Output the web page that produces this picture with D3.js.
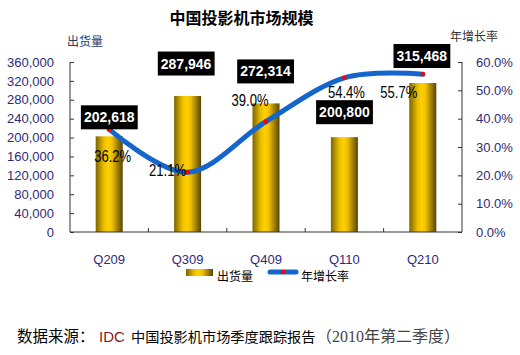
<!DOCTYPE html>
<html><head><meta charset="utf-8">
<script src="https://cdn.jsdelivr.net/npm/d3@7"></script>
<style>body{margin:0;background:#fff}svg{display:block}</style>
</head><body>
<svg id="c" width="520" height="355"></svg>
<script>
// ---- data ----
const categories = ["Q209","Q309","Q409","Q110","Q210"];
const shipments = [202618, 287946, 272314, 200800, 315468];
const growth = [0.362, 0.211, 0.390, 0.544, 0.557];
const leftTicks = [0,40000,80000,120000,160000,200000,240000,280000,320000,360000];
const rightTicks = [0,0.1,0.2,0.3,0.4,0.5,0.6];
const title = "中国投影机市场规模";
const leftTitle = "出货量";
const rightTitle = "年增长率";
const seriesNames = ["出货量","年增长率"];

// ---- layout (label placement offsets, px) ----
const valLabelOffset = [[0,-19],[-1.5,-32.5],[-0.5,-32],[0,-25],[-1,-27]];
const pctLabelOffset = [[3.5,27],[-20,-2.5],[-16,-22],[2,14],[-24,18]];

const svg = d3.select("#c");
const x0 = 70, x1 = 462, yTop = 62, yBot = 232;
const tickColor = "#2E2A7A";

const x = d3.scaleBand().domain(categories).range([x0, x1]).paddingInner(0).paddingOuter(0);
const yL = d3.scaleLinear().domain([0, 360000]).range([yBot, yTop]);
const yR = d3.scaleLinear().domain([0, 0.6]).range([yBot, yTop]);

const defs = svg.append("defs");
const g = defs.append("linearGradient").attr("id","barGrad").attr("x1","0").attr("x2","1").attr("y1","0").attr("y2","0");
[["0%","#7d6400"],["30%","#e8be00"],["45%","#ffd000"],["60%","#f2c200"],["100%","#574500"]]
  .forEach(s=>g.append("stop").attr("offset",s[0]).attr("stop-color",s[1]));

// title
svg.append("text").attr("x",241.5).attr("y",24).attr("text-anchor","middle")
  .attr("font-family","'Noto Sans CJK SC'").attr("font-size",16).attr("font-weight","bold")
  .attr("fill","#000").text(title);

// axis titles
svg.append("text").attr("x",67).attr("y",46).attr("font-family","'Noto Sans CJK SC'")
  .attr("font-size",12).attr("fill","#1F3C6E").text(leftTitle);
svg.append("text").attr("x",450).attr("y",41).attr("font-family","'Noto Sans CJK SC'")
  .attr("font-size",12).attr("fill","#333").text(rightTitle);

// bars
const bw = 27;
svg.append("g").selectAll("rect").data(shipments).join("rect")
  .attr("x",(d,i)=>x(categories[i]) + x.bandwidth()/2 - bw/2)
  .attr("y",d=>yL(d)).attr("width",bw).attr("height",d=>yBot - yL(d))
  .attr("fill","url(#barGrad)");

// axes
const fmt = d3.format(",");
const axL = svg.append("g").attr("transform",`translate(${x0},0)`)
  .call(d3.axisLeft(yL).tickValues(leftTicks).tickSize(-4).tickPadding(16).tickFormat(fmt));
const axR = svg.append("g").attr("transform",`translate(${x1},0)`)
  .call(d3.axisRight(yR).tickValues(rightTicks).tickSize(-4).tickPadding(14).tickFormat(d3.format(".1%")));
[axL, axR].forEach(a=>{
  a.select(".domain").attr("stroke","#333").attr("d", `M0,${yTop}V${yBot}`);
  a.selectAll(".tick line").attr("stroke","#333");
  a.selectAll(".tick text").attr("font-family","Arial, 'Liberation Sans'").attr("font-size",13).attr("fill",tickColor);
});
axL.selectAll(".tick text").attr("x", -16);
// bottom axis
const axB = svg.append("g").attr("transform",`translate(0,${yBot})`);
axB.append("line").attr("x1",x0).attr("x2",x1).attr("y1",0).attr("y2",0).attr("stroke","#333");
axB.selectAll("line.t").data(categories.slice(1)).join("line").attr("class","t")
  .attr("x1",d=>x(d)).attr("x2",d=>x(d)).attr("y1",0).attr("y2",-4).attr("stroke","#333");
axB.selectAll("text").data(categories).join("text")
  .attr("x",d=>x(d)+x.bandwidth()/2).attr("y",32).attr("text-anchor","middle")
  .attr("font-family","Arial, 'Liberation Sans'").attr("font-size",13).attr("fill",tickColor).text(d=>d);

// line
const pts = growth.map((v,i)=>[x(categories[i])+x.bandwidth()/2, yR(v)]);
svg.append("path").attr("d", d3.line().curve(d3.curveCardinal.tension(0))(pts))
  .attr("fill","none").attr("stroke","#1466cc").attr("stroke-width",5).attr("stroke-linecap","round");
svg.append("g").selectAll("rect").data(pts).join("rect")
  .attr("x",d=>d[0]-2).attr("y",d=>d[1]-2).attr("width",4).attr("height",4).attr("fill","#ff0000");

// value labels
const vl = svg.append("g");
shipments.forEach((v,i)=>{
  const cx = x(categories[i]) + x.bandwidth()/2 + valLabelOffset[i][0];
  const cy = yL(v) + valLabelOffset[i][1];
  const t = vl.append("text").attr("x",cx).attr("y",cy+5).attr("text-anchor","middle")
    .attr("font-family","Arial, 'Liberation Sans'").attr("font-size",14).attr("font-weight","bold")
    .attr("fill","#fff").text(fmt(v));
  const bb = t.node().getBBox();
  vl.insert("rect","text").attr("x",bb.x-3).attr("y",cy-12).attr("width",bb.width+6).attr("height",24).attr("fill","#000");
});
// percent labels
svg.append("g").selectAll("text").data(growth).join("text")
  .attr("x",(d,i)=>pts[i][0]+pctLabelOffset[i][0]).attr("y",(d,i)=>pts[i][1]+pctLabelOffset[i][1]+6)
  .attr("text-anchor","middle").attr("font-family","Arial, 'Liberation Sans'").attr("font-size",16)
  .attr("textLength",37).attr("lengthAdjust","spacingAndGlyphs")
  .attr("fill","#000").text(d=>d3.format(".1%")(d));

// legend
const lg = svg.append("g");
lg.append("rect").attr("x",186).attr("y",269).attr("width",27).attr("height",7).attr("fill","url(#barGrad)");
lg.append("text").attr("x",217).attr("y",281).attr("font-family","'Noto Sans CJK SC'").attr("font-size",12).attr("fill","#000").text(seriesNames[0]);
lg.append("line").attr("x1",270).attr("x2",296).attr("y1",272).attr("y2",272).attr("stroke","#1466cc").attr("stroke-width",5).attr("stroke-linecap","round");
lg.append("rect").attr("x",281).attr("y",270).attr("width",4).attr("height",4).attr("fill","#ff0000");
lg.append("text").attr("x",301).attr("y",281).attr("font-family","'Noto Sans CJK SC'").attr("font-size",12).attr("fill","#000").text(seriesNames[1]);

// source
const src = svg.append("text").attr("y",342).attr("font-family","'Noto Sans CJK SC'").attr("font-size",14.2).attr("fill","#000");
src.append("tspan").attr("x",17).attr("font-size",15.5).text("数据来源：");
src.append("tspan").attr("x",99).attr("font-family","Arial, 'Liberation Sans'").attr("fill","#8b1a1a").attr("font-size",15).text("IDC");
src.append("tspan").attr("x",131).text("中国投影机市场季度跟踪报告");
src.append("tspan").attr("x",316).attr("font-size",16).attr("font-family","'Liberation Serif', 'Noto Sans CJK SC'").attr("fill","#444").text("（2010年第二季度）");
</script>
</body></html>
